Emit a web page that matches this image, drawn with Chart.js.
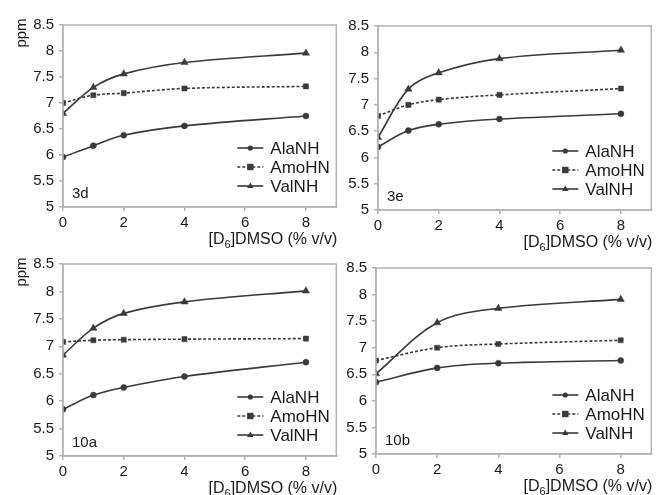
<!DOCTYPE html>
<html>
<head>
<meta charset="utf-8">
<script src="https://cdn.jsdelivr.net/npm/chart.js@4"></script>
<style>
  body { margin: 0; background: #fff; width: 656px; height: 495px; position: relative; overflow: hidden; }
  canvas { position: absolute; }
</style>
</head>
<body>
<script>
// DMSO content (% v/v)
const dmso = [0, 1, 2, 4, 8];
const dmso10b = [0, 2, 4, 8];

// chemical shifts (ppm)
const ala3d = [5.96, 6.18, 6.38, 6.56, 6.75];
const amo3d = [7.0, 7.15, 7.19, 7.28, 7.32];
const val3d = [6.8, 7.3, 7.56, 7.78, 7.96];

const ala3e = [6.2, 6.51, 6.63, 6.73, 6.83];
const amo3e = [6.79, 7.0, 7.1, 7.19, 7.31];
const val3e = [6.38, 7.3, 7.61, 7.88, 8.04];

const ala10a = [5.85, 6.11, 6.25, 6.45, 6.71];
const amo10a = [7.08, 7.11, 7.12, 7.13, 7.14];
const val10a = [6.84, 7.33, 7.6, 7.81, 8.01];

const ala10b = [6.35, 6.62, 6.71, 6.76];
const amo10b = [6.76, 7.0, 7.07, 7.14];
const val10b = [6.51, 7.47, 7.74, 7.91];

const seriesNames = ['AlaNH', 'AmoHN', 'ValNH'];
const yTicks = [5, 5.5, 6, 6.5, 7, 7.5, 8, 8.5];

const LINE = '#3a3a3a';
const FRAME = '#b4b4b4';
const TEXT = '#1a1a1a';
const FONT = '"Liberation Sans", Arial, sans-serif';

const styles = [
  { pointStyle: 'circle', pointRadius: 3, borderDash: [] },
  { pointStyle: 'rect', pointRadius: 3.6, borderDash: [3, 2] },
  { pointStyle: 'triangle', pointRadius: 4.2, borderDash: [] },
];

// plot boxes (chart area) for each panel
const panels = [
  { label: '3d', ppm: true, x: dmso, ys: [ala3d, amo3d, val3d], box: { l: 63, t: 25, r: 337, b: 207 } },
  { label: '3e', ppm: false, x: dmso, ys: [ala3e, amo3e, val3e], box: { l: 378, t: 26, r: 652, b: 210 } },
  { label: '10a', ppm: true, x: dmso, ys: [ala10a, amo10a, val10a], box: { l: 63, t: 264, r: 337, b: 456 } },
  { label: '10b', ppm: false, x: dmso10b, ys: [ala10b, amo10b, val10b], box: { l: 376, t: 268, r: 652, b: 454 } },
];

function drawMarker(ctx, style, x, y, r) {
  ctx.beginPath();
  if (style === 'circle') {
    ctx.arc(x, y, r, 0, Math.PI * 2);
  } else if (style === 'rect') {
    ctx.rect(x - r, y - r, r * 2, r * 2);
  } else {
    ctx.moveTo(x, y - r);
    ctx.lineTo(x + r * 0.95, y + r * 0.6);
    ctx.lineTo(x - r * 0.95, y + r * 0.6);
    ctx.closePath();
  }
  ctx.fill();
}

// frame, in-plot legend, panel label and axis titles
const decor = {
  id: 'decor',
  afterDraw(chart, args, opts) {
    const ctx = chart.ctx;
    const a = chart.chartArea;
    ctx.save();
    ctx.strokeStyle = FRAME;
    ctx.lineWidth = 1.5;
    ctx.strokeRect(a.left, a.top, a.right - a.left, a.bottom - a.top);

    // legend
    ctx.fillStyle = TEXT;
    ctx.textBaseline = 'middle';
    ctx.font = '17px ' + FONT;
    seriesNames.forEach((name, i) => {
      const y = a.bottom - 59 + i * 19;
      const x0 = a.right - 99, x1 = a.right - 73;
      ctx.strokeStyle = LINE;
      ctx.fillStyle = LINE;
      ctx.lineWidth = 1.6;
      ctx.setLineDash(styles[i].borderDash);
      ctx.beginPath();
      ctx.moveTo(x0, y);
      ctx.lineTo(x1, y);
      ctx.stroke();
      ctx.setLineDash([]);
      drawMarker(ctx, styles[i].pointStyle, (x0 + x1) / 2, y, i === 0 ? 2.6 : i === 1 ? 3.2 : 3.4);
      ctx.fillStyle = TEXT;
      ctx.fillText(name, a.right - 66, y + 1);
    });

    // panel label
    ctx.font = '15px ' + FONT;
    ctx.fillText(opts.label, a.left + 9, a.bottom - 13);

    // x title with subscript
    ctx.textBaseline = 'alphabetic';
    const base = a.bottom + 37;
    const big = '16px ' + FONT, small = '11px ' + FONT;
    ctx.font = big;
    const p1 = '[D', p3 = ']DMSO (% v/v)';
    const w1 = ctx.measureText(p1).width, w3 = ctx.measureText(p3).width;
    ctx.font = small;
    const w2 = ctx.measureText('6').width;
    let x = a.right + 1 - (w1 + w2 + w3);
    ctx.font = big;
    ctx.fillText(p1, x, base);
    ctx.font = small;
    ctx.fillText('6', x + w1, base + 4);
    ctx.font = big;
    ctx.fillText(p3, x + w1 + w2, base);

    // y title
    if (opts.ppm) {
      ctx.translate(a.left - 41, a.top + 8);
      ctx.rotate(-Math.PI / 2);
      ctx.textAlign = 'center';
      ctx.textBaseline = 'middle';
      ctx.font = '15px ' + FONT;
      ctx.fillText('ppm', 0, 0);
    }
    ctx.restore();
  }
};

panels.forEach(p => {
  const padTop = 25, padRight = 4, yW = 63, xH = 42;
  const cv = document.createElement('canvas');
  const w = p.box.r - p.box.l + yW + padRight;
  const h = p.box.b - p.box.t + padTop + xH;
  cv.width = w;
  cv.height = h;
  cv.style.left = (p.box.l - yW) + 'px';
  cv.style.top = (p.box.t - padTop) + 'px';
  document.body.appendChild(cv);

  const datasets = p.ys.map((vals, i) => ({
    label: seriesNames[i],
    data: p.x.map((xv, j) => ({ x: xv, y: vals[j] })),
    borderColor: LINE,
    backgroundColor: LINE,
    borderWidth: 1.6,
    borderDash: styles[i].borderDash,
    pointStyle: styles[i].pointStyle,
    pointRadius: styles[i].pointRadius,
    pointBackgroundColor: LINE,
    pointBorderColor: LINE,
    pointBorderWidth: 0.5,
    tension: 0.35,
    fill: false,
  }));

  new Chart(cv, {
    type: 'line',
    data: { datasets },
    options: {
      responsive: false,
      animation: false,
      layout: { padding: { top: padTop, right: padRight, left: 0, bottom: 0 } },
      plugins: {
        legend: { display: false },
        tooltip: { enabled: false },
        decor: { label: p.label, ppm: p.ppm },
      },
      scales: {
        x: {
          type: 'linear',
          min: 0,
          max: 9,
          ticks: { stepSize: 2, includeBounds: false, color: TEXT, padding: 3, font: { family: FONT, size: 15 } },
          grid: { drawOnChartArea: false, tickLength: 4, color: FRAME, lineWidth: 1.5 },
          border: { color: FRAME, width: 1.5 },
          afterFit(s) { s.height = xH; },
        },
        y: {
          min: 5,
          max: 8.5,
          afterBuildTicks(s) { s.ticks = yTicks.map(v => ({ value: v })); },
          ticks: { color: TEXT, padding: 5, font: { family: FONT, size: 15 }, callback: v => String(v) },
          grid: { drawOnChartArea: false, tickLength: 4, color: FRAME, lineWidth: 1.5 },
          border: { color: FRAME, width: 1.5 },
          afterFit(s) { s.width = yW; },
        },
      },
    },
    plugins: [decor],
  });
});
</script>
</body>
</html>
